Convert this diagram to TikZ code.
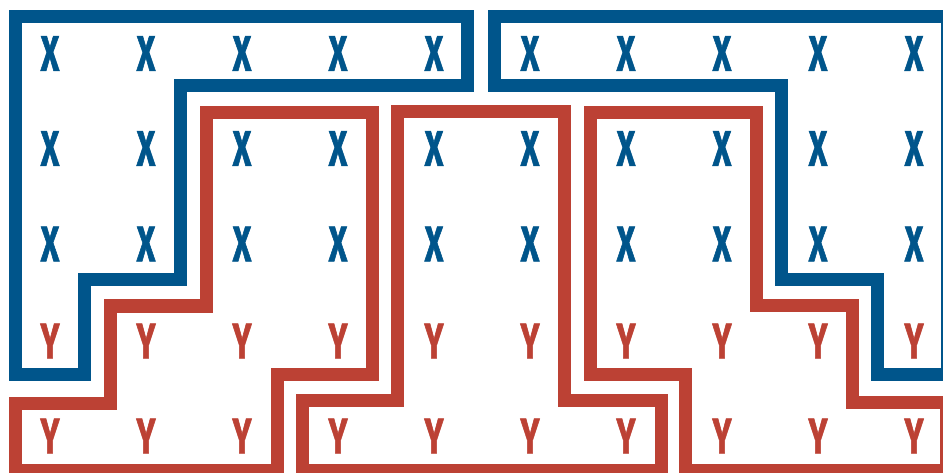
\documentclass[tikz,border=0pt]{standalone}
\usepackage{fontspec}
\newfontfamily\letfont[FakeBold=1.6]{Fira Sans}
\definecolor{bl}{RGB}{0,85,139}
\definecolor{rd}{RGB}{188,65,52}
\begin{document}
\begin{tikzpicture}[x=1pt,y=-1pt,
  blueline/.style={draw=bl,line width=13pt},
  redline/.style={draw=rd,line width=13pt},
  letter/.style={inner sep=0pt,font=\letfont\bfseries\fontsize{50}{50}\selectfont},
  lx/.style={letter,text=bl},
  ly/.style={letter,text=rd}]
\useasboundingbox (0,0) rectangle (943,473);
\clip (0,0) rectangle (943,473);
% letters
\foreach \c [count=\i] in {50,146,242,338,434,530,626,722,818,914}{
  \foreach \r [count=\j] in {53.5,148.5,244}{
    \node[lx] (x-\j-\i) at (\c,\r) {\scalebox{0.64}[1]{X}};
  }
  \foreach \r [count=\j from 4] in {341,436}{
    \node[ly] (y-\j-\i) at (\c,\r) {\scalebox{0.64}[1]{Y}};
  }
}
% blue outlines
\draw[blueline] (15,16.5) -- (467.5,16.5) -- (467.5,85.5) -- (180,85.5) -- (180,280) -- (84.5,280) -- (84.5,374) -- (15,374) -- cycle;
\draw[blueline] (494.5,16.5) -- (947,16.5) -- (947,374) -- (877,374) -- (877,280) -- (781,280) -- (781,85.5) -- (494.5,85.5) -- cycle;
% red outlines
\draw[redline] (206,113) -- (372,113) -- (372,374) -- (277,374) -- (277,470.5) -- (15,470.5) -- (15,403) -- (110,403) -- (110,306) -- (206,306) -- cycle;
\draw[redline] (397,111.5) -- (564,111.5) -- (564,400) -- (661,400) -- (661,470.5) -- (302,470.5) -- (302,400) -- (397,400) -- cycle;
\draw[redline] (590,112.7) -- (756,112.7) -- (756,305.7) -- (852,305.7) -- (852,402.7) -- (946,402.7) -- (946,470.5) -- (685,470.5) -- (685,374.5) -- (590,374.5) -- cycle;
\end{tikzpicture}
\end{document}
